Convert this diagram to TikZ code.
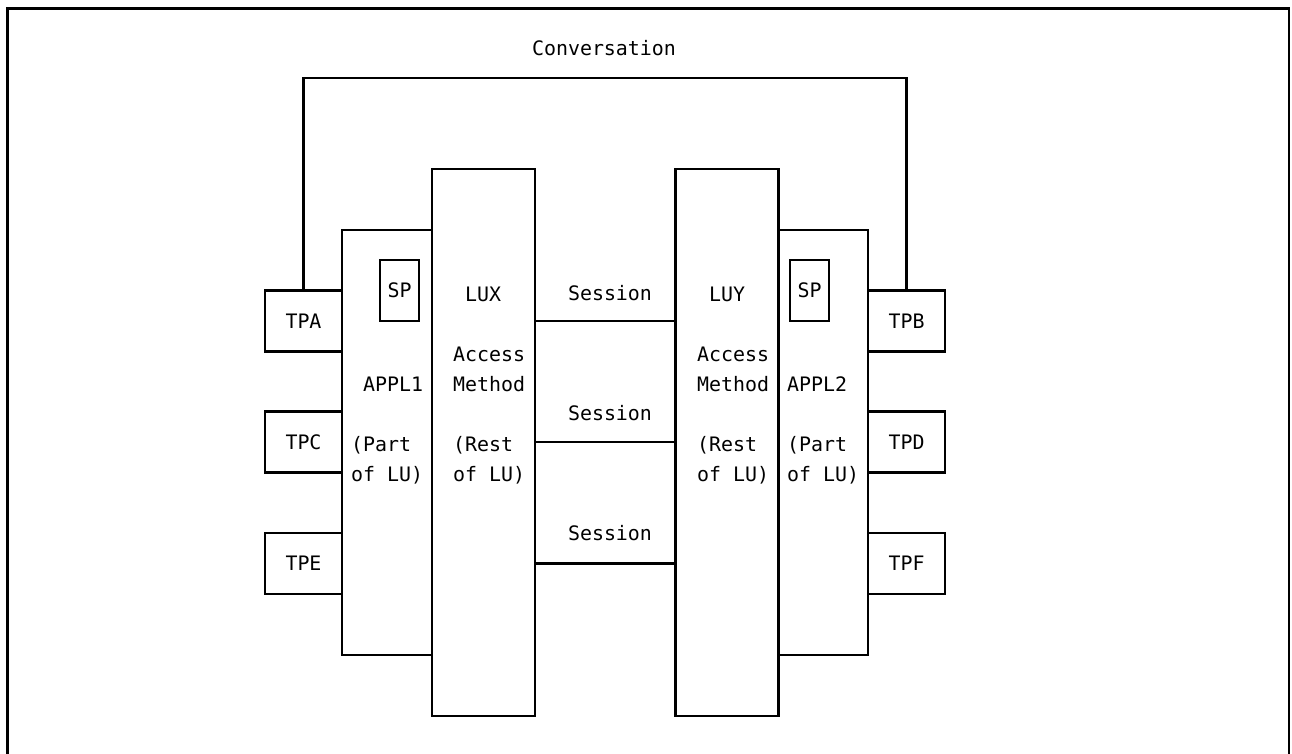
\documentclass[tikz,border=0pt]{standalone}
\usepackage{fontspec}
\setmonofont{DejaVu Sans Mono}

\begin{document}
\begin{tikzpicture}[x=0.02cm, y=-0.02cm, line width=1.3pt,
    font=\ttfamily\fontsize{11.34}{17.07}\selectfont,
    tpbox/.style={draw, minimum width=1.54cm, minimum height=1.22cm, inner sep=0pt},
    lubox/.style={draw, minimum width=2.06cm, minimum height=10.94cm, inner sep=0pt},
    applbox/.style={draw, minimum width=1.8cm, minimum height=8.5cm, inner sep=0pt},
    spbox/.style={draw, minimum width=0.78cm, minimum height=1.22cm, inner sep=0pt},
    txt/.style={inner sep=0pt}]
    \useasboundingbox (0,0) rectangle (1292,754);
    % frame, cut at the bottom
    \draw[line width=1.5pt] (7.5,754) |- (1289,8.7) -- (1289,754);
    % the two applications
    \node[applbox] (appl1) at (387,442.5) {};
    \node[applbox] (appl2) at (823,442.5) {};
    % the access methods
    \node[lubox] (lux) at (483.5,442.5) {};
    \node[lubox] (luy) at (727,442.5) {};
    \node[spbox] (sp1) at (399.5,290.5) {SP};
    \node[spbox] (sp2) at (809.5,290.5) {SP};
    % transaction programs
    \node[tpbox] (tpa) at (303.5,321) {TPA};
    \node[tpbox] (tpc) at (303.5,442) {TPC};
    \node[tpbox] (tpe) at (303.5,563.5) {TPE};
    \node[tpbox] (tpb) at (906.5,321) {TPB};
    \node[tpbox] (tpd) at (906.5,442) {TPD};
    \node[tpbox] (tpf) at (906.5,563.5) {TPF};
    % texts in the boxes
    \node[txt, align=left, anchor=north west] (luxtext) at (452,285.5)
        {\hphantom{A}LUX\\[17.07pt]Access\\Method\\[17.07pt](Rest\\of LU)};
    \node[txt, align=left, anchor=north west] (luytext) at (696,285.5)
        {\hphantom{A}LUY\\[17.07pt]Access\\Method\\[17.07pt](Rest\\of LU)};
    \node[txt, align=left, anchor=north west] (appl1text) at (350,375.5)
        {\hphantom{A}APPL1\\[17.07pt](Part\\of LU)};
    \node[txt, align=left, anchor=north west] (appl2text) at (786,375.5)
        {APPL2\\[17.07pt](Part\\of LU)};
    % sessions
    \node[txt, anchor=base] (s1) at (610,300) {Session};
    \node[txt, anchor=base] (s2) at (610,420) {Session};
    \node[txt, anchor=base] (s3) at (610,540) {Session};
    \draw (lux.east |- tpa) -- (luy.west |- tpa);
    \draw (lux.east |- tpc) -- (luy.west |- tpc);
    \draw (lux.east |- tpe) -- (luy.west |- tpe);
    % conversation
    \coordinate (conv) at (604,78);
    \node[txt, anchor=base] (convtext) at (604,55) {Conversation};
    \draw (tpa.north) |- (conv) -| (tpb.north);
\end{tikzpicture}
\end{document}
